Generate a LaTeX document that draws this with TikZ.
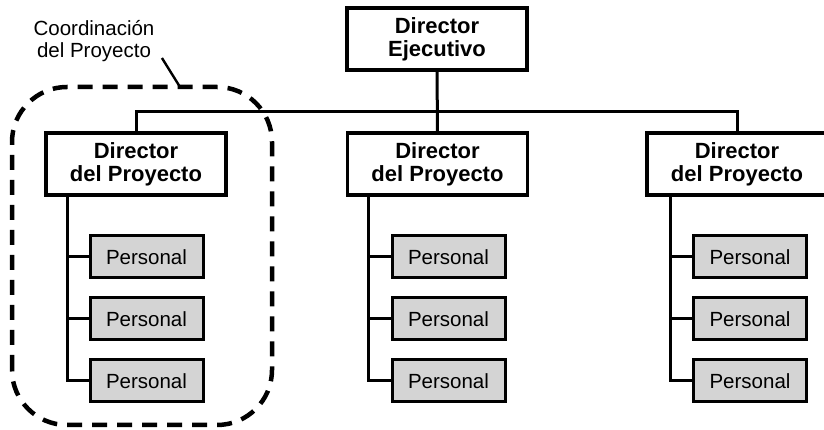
\documentclass[tikz,border=0pt]{standalone}
\usepackage{fontspec}
\setmainfont{Liberation Sans}
\usetikzlibrary{
  positioning,  % Function "of" (e.g. [below=of x])
  calc,         % Calculations $...$
}
\def\mybw{180pt}
\def\mybh{62pt}
\def\mypw{113pt}
\def\myph{42pt}
\def\myvdist{17pt}
\def\mytrunk{23pt}
\tikzset{
  x=1pt,
  y=1pt,
  font=\fontsize{20.5}{22}\selectfont,
  my boss/.style={
    draw,
    line width=3.4pt,
    minimum width=\mybw,
    minimum height=\mybh,
    inner sep=0pt,
    align=center,
    font=\fontsize{22}{23}\selectfont\bfseries
  },
  my staff/.style={
    draw,
    line width=3pt,
    fill=black!17,
    minimum width=\mypw,
    minimum height=\myph,
    inner sep=0pt
  },
  my line/.style={
    line width=3pt
  },
  my group/.style={
    line width=4.5pt,
    dash pattern=on 15pt off 10pt,
    rounded corners=55pt
  },
  org/.style={
    node distance=\myvdist
  }
}

\begin{document}
\begin{tikzpicture}[org]
\useasboundingbox (0,0) rectangle (824,430);
% directores
\node[my boss] (ejec) at (437,391)   {Director\\Ejecutivo};
\node[my boss] (dir1) at (136,266)   {Director\\del Proyecto};
\node[my boss] (dir2) at (437.5,266) {Director\\del Proyecto};
\node[my boss] (dir3) at (737,266)   {Director\\del Proyecto};
% personal
\node[my staff] (p11) at (146.5,173)  {Personal};
\node[my staff] (p12) [below=of p11]  {Personal};
\node[my staff] (p13) [below=of p12]  {Personal};
\node[my staff] (p21) at (448.5,173)  {Personal};
\node[my staff] (p22) [below=of p21]  {Personal};
\node[my staff] (p23) [below=of p22]  {Personal};
\node[my staff] (p31) at (750,173)    {Personal};
\node[my staff] (p32) [below=of p31]  {Personal};
\node[my staff] (p33) [below=of p32]  {Personal};
\coordinate (bar) at (437,318);
\coordinate (t1) at ($(dir1.south west)+(\mytrunk,0)$);
\coordinate (t2) at ($(dir2.south west)+(\mytrunk,0)$);
\coordinate (t3) at ($(dir3.south west)+(\mytrunk+2,0)$);
% lineas
\draw[my line] (ejec) -- (dir2);
\draw[my line] (dir1.north) -- (dir1.north |- bar) -- (dir3.north |- bar) -- (dir3.north);
\draw[my line] (t1) |- (p13.west)
               (t1 |- p11.west) -- (p11.west)
               (t1 |- p12.west) -- (p12.west);
\draw[my line] (t2) |- (p23.west)
               (t2 |- p21.west) -- (p21.west)
               (t2 |- p22.west) -- (p22.west);
\draw[my line] (t3) |- (p33.west)
               (t3 |- p31.west) -- (p31.west)
               (t3 |- p32.west) -- (p32.west);
% coordinacion
\node[align=center] (coord) at (94,389) {Coordinación\\del Proyecto};
\draw[my group] (12,5) rectangle (272,343);
\coordinate (grp) at (180,343);
\draw[line width=2.4pt] (coord.east |- 0,372) ++(4,0) -- (grp);
\end{tikzpicture}
\end{document}
